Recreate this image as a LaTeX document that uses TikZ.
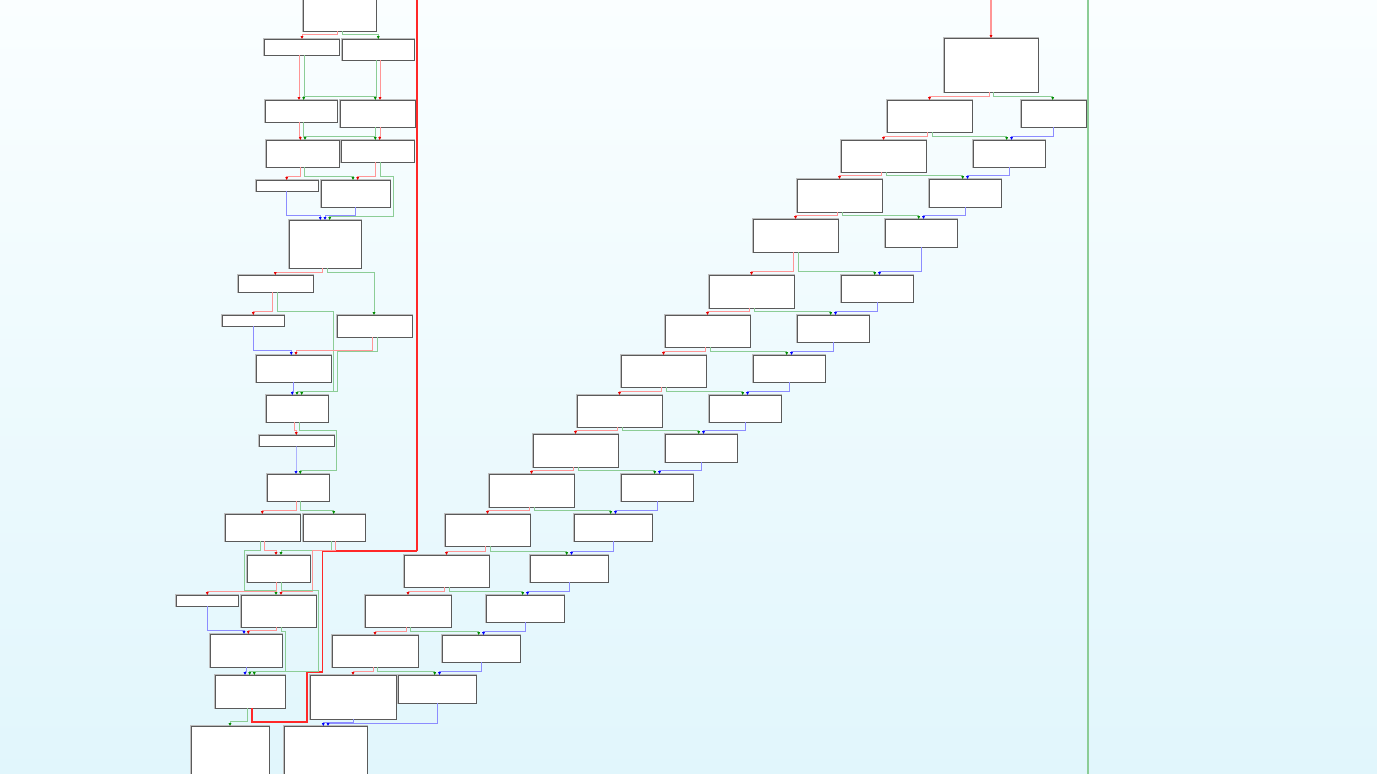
\documentclass[tikz,border=0pt]{standalone}
\usetikzlibrary{arrows.meta}
\definecolor{rl}{RGB}{255,150,150}
\definecolor{rd}{RGB}{230,0,0}
\definecolor{gl}{RGB}{140,205,150}
\definecolor{gd}{RGB}{0,140,0}
\definecolor{bl}{RGB}{140,140,255}
\definecolor{bd}{RGB}{0,0,255}
\definecolor{rt}{RGB}{255,40,40}
\definecolor{bxline}{RGB}{90,90,90}
\definecolor{bxshade}{RGB}{190,190,190}
\definecolor{bgtop}{RGB}{250,254,255}
\definecolor{bgbot}{RGB}{225,246,252}
\tikzset{
  blk/.style={draw=bxline, fill=white, line width=0.8pt, inner sep=0pt, outer sep=0pt, rectangle,
    preaction={draw=bxshade, line width=1.8pt}},
  rE/.style={draw=rl, line width=1pt, -{Triangle[length=2.8pt,width=2.6pt,color=rd]}},
  gE/.style={draw=gl, line width=1pt, -{Triangle[length=2.8pt,width=2.6pt,color=gd]}},
  bE/.style={draw=bl, line width=1pt, -{Triangle[length=2.8pt,width=2.6pt,color=bd]}},
  rT/.style={draw=rt, line width=1.6pt},
  rTv/.style={draw=rt, line width=2pt},
  gL/.style={draw=gl, line width=1.2pt},
  rL/.style={draw=rl, line width=1.2pt, -{Triangle[length=2.8pt,width=2.6pt,color=rd]}}
}
\newcommand\bx[5]{\node[blk, minimum width={(#4-#2)*1pt}, minimum height={(#5-#3)*1pt}] (#1) at ({(#2+#4)/2},{(#3+#5)/2}) {};}
\newcommand\ed[6]{%
  \coordinate (ps) at ([xshift=#3pt]#2.south);
  \coordinate (pt) at ([xshift=#5pt]#4.north);
  \coordinate (ph) at ([yshift=#6pt]pt);
  \draw[#1] (ps) -- (ps |- ph) -- (ph) -- (pt);}
\begin{document}
\begin{tikzpicture}[x=1pt,y=-1pt]
\useasboundingbox (0,0) rectangle (1377,774);
\clip (0,0) rectangle (1377,774);
\shade[top color=bgtop, bottom color=bgbot] (0,0) rectangle (1377,774);

% ---------- left column boxes ----------
\bx{A}{303}{-5}{376}{31}
\bx{B}{264}{39}{339}{55}
\bx{C}{342}{39}{414}{60}
\bx{D}{265}{100}{337}{122}
\bx{E}{340}{100}{415}{127}
\bx{F}{266}{140}{339}{167}
\bx{G}{341}{140}{414}{162}
\bx{H}{256}{180}{318}{191}
\bx{I}{321}{180}{390}{207}
\bx{J}{289}{220}{361}{268}
\bx{K}{238}{275}{313}{292}
\bx{L}{222}{315}{284}{326}
\bx{M}{337}{315}{412}{337}
\bx{N}{256}{355}{331}{382}
\bx{O}{266}{395}{328}{422}
\bx{P}{259}{435}{334}{446}
\bx{Q}{267}{474}{329}{501}
\bx{Ra}{225}{514}{300}{541}
\bx{Rb}{303}{514}{365}{541}
\bx{Sa}{247}{555}{310}{582}
\bx{Ta}{176}{595}{238}{606}
\bx{Tb}{241}{595}{316}{627}
\bx{U}{210}{634}{282}{667}
\bx{V}{215}{675}{285}{708}
\bx{Wa}{191}{726}{269}{790}
\bx{Wb}{284}{726}{367}{790}

% ---------- right chain boxes ----------
\bx{cL0}{944}{38}{1038}{92}
\bx{cL1}{887}{100}{972}{132}
\bx{cR1}{1021}{100}{1086}{127}
\bx{cL2}{841}{140}{926}{172}
\bx{cR2}{973}{140}{1045}{167}
\bx{cL3}{797}{179}{882}{212}
\bx{cR3}{929}{179}{1001}{207}
\bx{cL4}{753}{219}{838}{252}
\bx{cR4}{885}{219}{957}{247}
\bx{cL5}{709}{275}{794}{308}
\bx{cR5}{841}{275}{913}{302}
\bx{cL6}{665}{315}{750}{347}
\bx{cR6}{797}{315}{869}{342}
\bx{cL7}{621}{355}{706}{387}
\bx{cR7}{753}{355}{825}{382}
\bx{cL8}{577}{395}{662}{427}
\bx{cR8}{709}{395}{781}{422}
\bx{cL9}{533}{434}{618}{467}
\bx{cR9}{665}{434}{737}{462}
\bx{cL10}{489}{474}{574}{507}
\bx{cR10}{621}{474}{693}{501}
\bx{cL11}{445}{514}{530}{546}
\bx{cR11}{574}{514}{652}{541}
\bx{cL12}{404}{555}{489}{587}
\bx{cR12}{530}{555}{608}{582}
\bx{cL13}{365}{595}{451}{627}
\bx{cR13}{486}{595}{564}{622}
\bx{cL14}{332}{635}{418}{667}
\bx{cR14}{442}{635}{520}{662}
\bx{cL15}{310}{675}{396}{719}
\bx{cR15}{398}{675}{476}{703}

% ---------- long lines ----------
\coordinate (topR) at (991,-5);
\draw[rL] (topR) -- (cL0.north);
\coordinate (gTop) at (1088,-5);
\coordinate (gBot) at (1088,780);
\draw[gL] (gTop) -- (gBot);
\coordinate (rtTop) at (417,-5);
\coordinate (rtCorner) at (417,551);
\draw[rT] (V.south -| 252,0) -- (252,721.7) -- (306.7,721.7) -- (306.7,672) -- (322.3,672) -- (322.3,551) -- (rtCorner);
\draw[rTv] (rtCorner) -- (rtTop);

% ---------- left column edges ----------
\ed{rE}{A}{-2.2}{B}{0.5}{4.3}
\ed{gE}{A}{2.8}{C}{0.3}{4.3}
\ed{rE}{B}{-2.2}{D}{-2}{4}
\ed{gE}{B}{2.8}{E}{-2.2}{3.7}
\ed{gE}{C}{-2}{D}{2.7}{3.7}
\ed{rE}{C}{2.3}{E}{2.5}{3.7}
\ed{rE}{D}{-2}{F}{-2.2}{4}
\ed{gE}{D}{2.7}{G}{-2.2}{4}
\ed{gE}{E}{-2.2}{F}{2.5}{4}
\ed{rE}{E}{2.5}{G}{2.2}{4}
\ed{rE}{F}{-2.5}{H}{-0.3}{3.3}
\ed{gE}{F}{2.2}{I}{-2.5}{3.3}
\ed{rE}{G}{-2.2}{I}{2.2}{3.3}
\draw[gE] (G.south -| 380,0) -- (380,176.7) -- (393,176.7) -- (393,216) -- (329.7,216) -- (J.north -| 329.7,0);
\ed{bE}{H}{-0.3}{J}{-4.7}{5}
\ed{bE}{I}{0.2}{J}{0}{5}
\ed{rE}{J}{-2.3}{K}{-0.2}{3}
\ed{gE}{J}{2.3}{M}{-0.5}{43}
\ed{rE}{K}{-2.8}{L}{0.3}{4}
\draw[gE] (K.south -| 277.3,0) -- (277.3,311) -- (333.3,311) -- (333.3,391) -- (301.7,391) -- (O.north -| 301.7,0);
\ed{bE}{L}{0.3}{N}{-2.2}{4.3}
\ed{rE}{M}{-2.2}{N}{2.5}{4.3}
\draw[gE] (M.south -| 377,0) -- (377,351.7) -- (337.3,351.7) -- (337.3,391.7) -- (297,391.7) -- (O.north -| 297,0);
\ed{bE}{N}{0.2}{O}{-4.7}{3.3}
\ed{rE}{O}{-2.3}{P}{-0.2}{4.3}
\draw[gE] (O.south -| 299.3,0) -- (299.3,430.7) -- (336.3,430.7) -- (336.3,470.7) -- (300.3,470.7) -- (Q.north -| 300.3,0);
\ed{bE}{P}{-0.5}{Q}{-2}{4}
\ed{rE}{Q}{-2}{Ra}{-0.2}{3.3}
\ed{gE}{Q}{2.3}{Rb}{-0.3}{3.3}
\ed{rE}{Ra}{1.8}{Sa}{-2.5}{5}
\draw[gE] (Ra.south -| 260,0) -- (260,550) -- (244,550) -- (244,590.7) -- (276,590.7) -- (Tb.north -| 276,0);
\ed{gE}{Rb}{-2.7}{Sa}{2.5}{5}
\draw[rE] (Rb.south -| 335.7,0) -- (335.7,550) -- (312.7,550) -- (312.7,591.7) -- (281,591.7) -- (Tb.north -| 281,0);
\ed{rE}{Sa}{-2.5}{Ta}{0.3}{3.3}
\draw[gE] (Sa.south -| 281,0) -- (281,590) -- (318.3,590) -- (318.3,671) -- (254.3,671) -- (V.north -| 254.3,0);
\ed{bE}{Ta}{0.3}{U}{-2}{3.3}
\ed{rE}{Tb}{-2.5}{U}{2.3}{3.3}
\draw[gE] (Tb.south -| 281,0) -- (281,631.7) -- (285,631.7) -- (285,671) -- (249.7,671) -- (V.north -| 249.7,0);
\ed{bE}{U}{0.7}{V}{-5}{4}
\ed{gE}{V}{-2.3}{Wa}{0}{4.3}
\ed{bE}{cL15}{0.3}{Wb}{-2.2}{3.7}
\ed{bE}{cR15}{0}{Wb}{2.5}{3}

% ---------- right chain edges ----------
\ed{rE}{cL0}{-2}{cL1}{0}{4}
\ed{gE}{cL0}{2.3}{cR1}{-0.8}{4}
\foreach \i/\j in {1/2,2/3,3/4,4/5,5/6,6/7,7/8,8/9,9/10,10/11,11/12,12/13,13/14,14/15}{
  \ed{rE}{cL\i}{-2}{cL\j}{0}{3.8}
  \ed{gE}{cL\i}{2.5}{cR\j}{-2.3}{3.8}
  \ed{bE}{cR\i}{0}{cR\j}{2.5}{3.8}
}
\end{tikzpicture}
\end{document}
